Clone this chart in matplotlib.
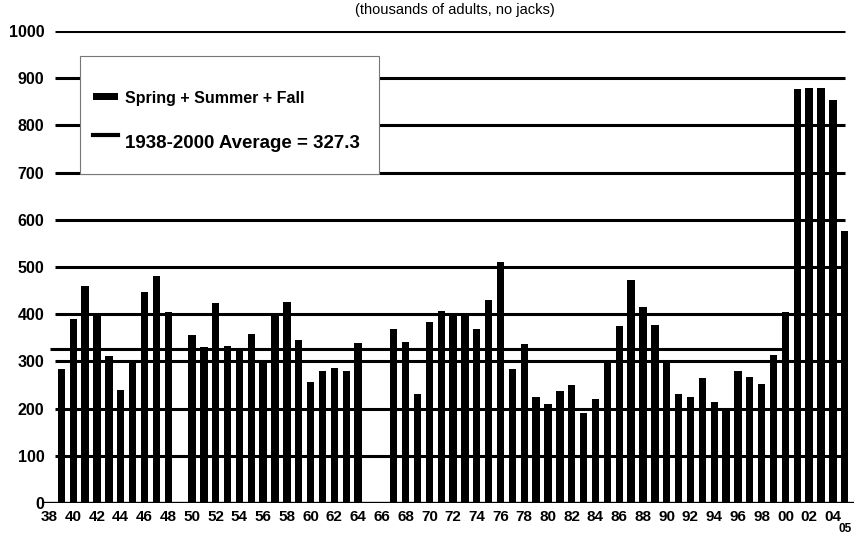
import numpy as np
import matplotlib
matplotlib.use("Agg")
import matplotlib.pyplot as plt
from matplotlib.patches import Rectangle
from matplotlib.lines import Line2D

# Spring + Summer + Fall counts (thousands of adults), None = no bar
years = list(range(1938, 2006))
counts = [
    None, 284, 389, 460, 397, 311, 239, 297, 446, 481,   # 1938-1947
    405, None, 356, 330, 423, 333, 321, 359, 298, 398,   # 1948-1957
    426, 345, 257, 280, 285, 280, 340, None, None, 368,  # 1958-1967
    342, 231, 383, 407, 397, 398, 369, 430, 511, 284,    # 1968-1977
    336, 225, 210, 237, 251, 190, 221, 297, 374, 473,    # 1978-1987
    415, 378, 299, 230, 225, 265, 213, 197, 279, 266,    # 1988-1997
    253, 313, 404, 877, 879, 879, 854, 577,              # 1998-2005
]
average = 327.3
avg_years = (1938, 2000)
y_ticks = list(range(0, 1001, 100))
x_tick_years = list(range(1938, 2005, 2))
x_tick_labels = ["%02d" % (y % 100) for y in x_tick_years]

plt.rcParams['font.family'] = ['Liberation Sans', 'DejaVu Sans']

fig = plt.figure(figsize=(8.6, 5.35), dpi=100)
ax = fig.add_axes([43 / 860, 32 / 535, 811 / 860, 472 / 535])

yrs = np.array([y for y, c in zip(years, counts) if c is not None])
vals = np.array([c for c in counts if c is not None])
ax.bar(yrs, vals, width=0.62, color='black', zorder=2)

# horizontal rules
for v in y_ticks[1:]:
    ax.hlines(v, 1938.46, 2005.05, color='black', lw=2.2, zorder=3)
ax.axhline(0, color='black', lw=2.4, zorder=3)
ax.hlines(average, avg_years[0], avg_years[1], color='black', lw=2.2, zorder=1.5)

ax.set_xlim(1937.45, 2005.78)
ax.set_ylim(0, 1000)
for s in ax.spines.values():
    s.set_visible(False)

ax.set_yticks(y_ticks)
ax.set_yticklabels([str(v) for v in y_ticks], fontsize=11.5, fontweight='bold')
ax.set_xticks(x_tick_years)
ax.set_xticklabels(x_tick_labels, fontsize=11, fontweight='bold')
ax.tick_params(axis='both', length=0)
ax.tick_params(axis='y', pad=-1)
ax.tick_params(axis='x', pad=5)
ax.text(2005, -0.042, "05", transform=ax.get_xaxis_transform(), ha='center',
        va='top', fontsize=8.5, fontweight='bold')

fig.text(455 / 860, 1 - 10 / 535, "(thousands of adults, no jacks)", ha='center',
         va='center', fontsize=10.5)

# legend box
W, H = 860, 535
box = Rectangle((80 / W, 1 - 174 / H), 299 / W, 118 / H, transform=fig.transFigure,
                facecolor='white', edgecolor='#777777', lw=0.8, zorder=5)
fig.add_artist(box)
fig.add_artist(Rectangle((93 / W, 1 - 100 / H), 25 / W, 7 / H, transform=fig.transFigure,
                         facecolor='black', edgecolor='none', zorder=6))
fig.add_artist(Line2D([93 / W, 118 / W], [1 - 135 / H, 1 - 135 / H], transform=fig.transFigure,
                      color='black', lw=3, zorder=6))
fig.text(125 / W, 1 - 99 / H, "Spring + Summer + Fall", ha='left', va='center',
         fontsize=11.5, fontweight='bold', zorder=7)
fig.text(125 / W, 1 - 143 / H, "1938-2000 Average = 327.3", ha='left', va='center',
         fontsize=13.5, fontweight='bold', zorder=7)

fig.savefig('out.png', dpi=100)
